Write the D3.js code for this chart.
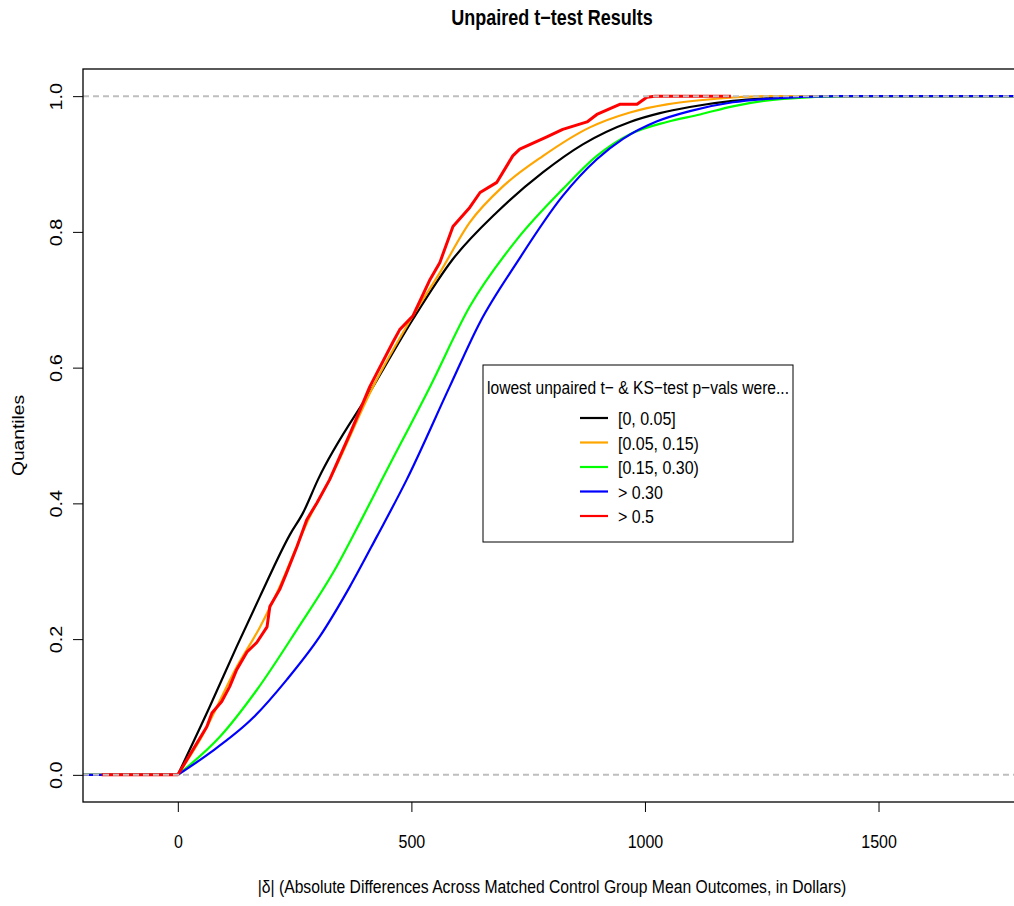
<!DOCTYPE html>
<html>
<head>
<meta charset="utf-8">
<script src="https://cdn.jsdelivr.net/npm/d3@7"></script>
<style>
  body { margin: 0; background: #fff; }
  text { font-family: "Liberation Sans", Arial, Helvetica, sans-serif; fill: #000; }
</style>
</head>
<body>
<div id="chart"></div>
<script>
// ECDF read-offs: |delta| in dollars and the matching quantile
var xBlack = [-203, 0, 68, 126, 176, 240, 268, 300, 418, 503, 589, 683, 782, 867, 968, 1032, 1096, 1188, 1261, 1368, 1805];
var qBlack = [0, 0, 0.100, 0.189, 0.263, 0.354, 0.386, 0.435, 0.572, 0.671, 0.760, 0.829, 0.888, 0.929, 0.962, 0.975, 0.984, 0.993, 0.997, 1, 1];

var xOrange = [-203, 0, 51, 126, 176, 212, 283, 325, 418, 503, 561, 625, 696, 782, 882, 968, 1047, 1118, 1188, 1261, 1805];
var qOrange = [0, 0, 0.056, 0.159, 0.218, 0.268, 0.381, 0.435, 0.572, 0.676, 0.740, 0.814, 0.867, 0.912, 0.954, 0.976, 0.988, 0.994, 0.998, 1, 1];

var xGreen = [-203, 0, 90, 169, 255, 340, 390, 437, 540, 625, 726, 824, 897, 968, 1047, 1118, 1188, 1296, 1433, 1805];
var qGreen = [0, 0, 0.056, 0.125, 0.214, 0.307, 0.372, 0.435, 0.572, 0.690, 0.789, 0.863, 0.912, 0.944, 0.962, 0.973, 0.985, 0.996, 1, 1];

var xBlue = [-203, 0, 68, 161, 233, 304, 368, 426, 490, 582, 647, 726, 824, 897, 953, 1026, 1096, 1188, 1261, 1411, 1805];
var qBlue = [0, 0, 0.032, 0.084, 0.140, 0.204, 0.277, 0.351, 0.435, 0.572, 0.667, 0.755, 0.853, 0.907, 0.937, 0.963, 0.978, 0.991, 0.996, 1, 1];

var xRed = [-163, 0, 41, 62, 73, 94, 111, 126, 148, 169, 191, 197, 218, 233, 255, 276, 298, 325, 370, 411, 460, 475, 503, 540, 561, 589, 625, 647, 683, 717, 732, 790, 824, 876, 897, 946, 983, 1004, 1021, 1184];
var qRed = [0, 0, 0.047, 0.071, 0.091, 0.108, 0.130, 0.155, 0.181, 0.195, 0.218, 0.248, 0.273, 0.298, 0.336, 0.376, 0.401, 0.435, 0.505, 0.572, 0.637, 0.656, 0.676, 0.730, 0.755, 0.808, 0.836, 0.858, 0.873, 0.912, 0.922, 0.940, 0.951, 0.962, 0.973, 0.988, 0.988, 0.9985, 1, 1];

var legendLabels = ["[0, 0.05]", "[0.05, 0.15)", "[0.15, 0.30)", "> 0.30", "> 0.5"];
var xTicks = [0, 500, 1000, 1500];
var yTicks = [0, 0.2, 0.4, 0.6, 0.8, 1.0];
var refLines = [0, 1];

var series = [
  { xs: xBlack, qs: qBlack, color: "#000000", w: 2.2, smooth: true },
  { xs: xOrange, qs: qOrange, color: "#FFA500", w: 2.2, smooth: true },
  { xs: xGreen, qs: qGreen, color: "#00FF00", w: 2.2, smooth: true },
  { xs: xBlue, qs: qBlue, color: "#0000FF", w: 2.2, smooth: true },
  { xs: xRed, qs: qRed, color: "#FF0000", w: 3, smooth: false }
];

var width = 1014, height = 906;
var pLeft = 83, pRight = 1021, pTop = 69, pBottom = 802;
var stretch = 1.2; // text in the original is drawn a bit tall and narrow

var svg = d3.select("#chart").append("svg")
  .attr("width", width)
  .attr("height", height);

var x = d3.scaleLinear().domain([-203, 1805]).range([pLeft, pRight]);
var y = d3.scaleLinear().domain([-0.04, 1.04]).range([pBottom, pTop]);

svg.append("defs").append("clipPath").attr("id", "plotclip")
  .append("rect")
  .attr("x", pLeft).attr("y", pTop)
  .attr("width", pRight - pLeft).attr("height", pBottom - pTop);

var plot = svg.append("g").attr("clip-path", "url(#plotclip)");

var line = d3.line()
  .x(function(d) { return x(d[0]); })
  .y(function(d) { return y(d[1]); });
var smoothLine = d3.line()
  .x(function(d) { return x(d[0]); })
  .y(function(d) { return y(d[1]); })
  .curve(d3.curveMonotoneX);

series.forEach(function(s) {
  var pts = d3.zip(s.xs, s.qs);
  var parts = s.smooth ? [[pts.slice(0, 2), line], [pts.slice(1), smoothLine]] : [[pts, line]];
  parts.forEach(function(p) {
    plot.append("path")
      .datum(p[0])
      .attr("d", p[1])
      .attr("fill", "none")
      .attr("stroke", s.color)
      .attr("stroke-width", s.w)
      .attr("stroke-linejoin", "round");
  });
});

// dashed reference lines at 0 and 1
plot.selectAll(".ref")
  .data(refLines)
  .enter().append("line")
  .attr("x1", pLeft).attr("x2", pRight)
  .attr("y1", function(d) { return y(d); })
  .attr("y2", function(d) { return y(d); })
  .attr("stroke", "#BEBEBE")
  .attr("stroke-width", 2)
  .attr("stroke-dasharray", "6,4");

// frame
svg.append("rect")
  .attr("x", pLeft).attr("y", pTop)
  .attr("width", pRight - pLeft).attr("height", pBottom - pTop)
  .attr("fill", "none").attr("stroke", "#000").attr("stroke-width", 1.3);

// x axis
var xAxis = d3.axisBottom(x).tickValues(xTicks).tickSize(10).tickFormat(d3.format("d"));
var gx = svg.append("g").attr("transform", "translate(0," + pBottom + ")").call(xAxis);
gx.select(".domain").remove();
gx.selectAll("line").attr("stroke", "#000");
gx.selectAll("text")
  .attr("font-size", 16)
  .attr("font-family", "'Liberation Sans', Arial, sans-serif")
  .attr("y", 0).attr("dy", 0)
  .attr("transform", "translate(0,46) scale(1," + stretch + ")");

// y axis
var yAxis = d3.axisLeft(y).tickValues(yTicks).tickSize(10).tickFormat(d3.format(".1f"));
var gy = svg.append("g").attr("transform", "translate(" + pLeft + ",0)").call(yAxis);
gy.select(".domain").remove();
gy.selectAll("line").attr("stroke", "#000");
gy.selectAll("text")
  .attr("font-size", 16.5)
  .attr("font-family", "'Liberation Sans', Arial, sans-serif")
  .attr("text-anchor", "middle")
  .attr("x", 0).attr("dy", 0)
  .attr("transform", "translate(-21,0) scale(1," + stretch + ") rotate(-90)");

// title
svg.append("text")
  .attr("transform", "translate(" + ((pLeft + pRight) / 2) + ",25) scale(1," + stretch + ")")
  .attr("text-anchor", "middle")
  .attr("font-size", 18).attr("font-weight", "bold")
  .text("Unpaired t\u2212test Results");

// axis labels
svg.append("text")
  .attr("transform", "translate(" + ((pLeft + pRight) / 2) + ",893) scale(1," + stretch + ")")
  .attr("text-anchor", "middle")
  .attr("font-size", 15.7)
  .text("|\u03b4| (Absolute Differences Across Matched Control Group Mean Outcomes, in Dollars)");

svg.append("text")
  .attr("transform", "translate(24," + ((pTop + pBottom) / 2) + ") scale(1," + stretch + ") rotate(-90)")
  .attr("text-anchor", "middle")
  .attr("font-size", 16)
  .text("Quantiles");

// legend
var legend = svg.append("g").attr("transform", "translate(483,365)");
legend.append("rect")
  .attr("width", 310).attr("height", 177)
  .attr("fill", "#fff").attr("stroke", "#000").attr("stroke-width", 1);
legend.append("text")
  .attr("transform", "translate(155,29) scale(1," + stretch + ")")
  .attr("text-anchor", "middle")
  .attr("font-size", 15.6)
  .text("lowest unpaired t\u2212 & KS\u2212test p\u2212vals were...");

var items = legend.selectAll(".item")
  .data(legendLabels)
  .enter().append("g")
  .attr("transform", function(d, i) { return "translate(0," + (53 + i * 24.5) + ")"; });
items.append("line")
  .attr("x1", 97).attr("x2", 125)
  .attr("stroke", function(d, i) { return series[i].color; })
  .attr("stroke-width", 2.2);
items.append("text")
  .attr("transform", "translate(135,7) scale(1," + stretch + ")")
  .attr("font-size", 16)
  .text(function(d) { return d; });
</script>
</body>
</html>
